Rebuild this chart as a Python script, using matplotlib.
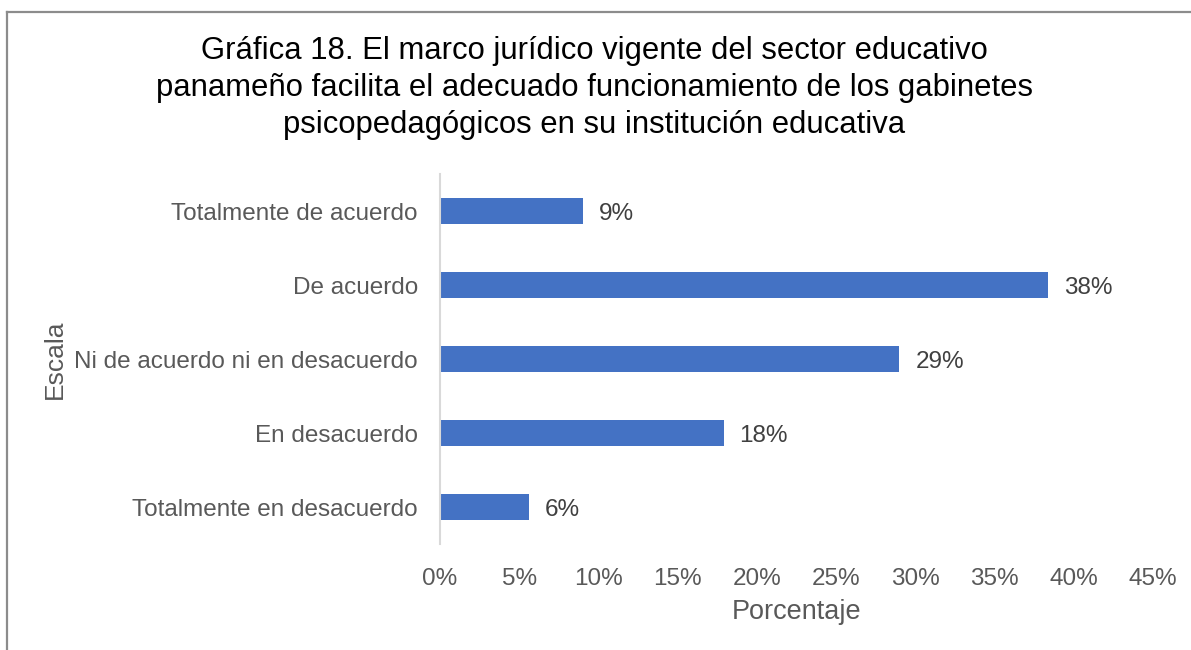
import matplotlib.pyplot as plt
from matplotlib.lines import Line2D
from matplotlib.ticker import FuncFormatter

# Datos
categorias = ["Totalmente de acuerdo", "De acuerdo", "Ni de acuerdo ni en desacuerdo",
              "En desacuerdo", "Totalmente en desacuerdo"]
porcentajes = [9.0, 38.4, 29.0, 17.9, 5.6]
etiquetas = ["9%", "38%", "29%", "18%", "6%"]
ticks_x = [0, 5, 10, 15, 20, 25, 30, 35, 40, 45]

titulo = ("Gráfica 18. El marco jurídico vigente del sector educativo\n"
          "panameño facilita el adecuado funcionamiento de los gabinetes\n"
          "psicopedagógicos en su institución educativa")

plt.rcParams['font.family'] = ['Liberation Sans', 'DejaVu Sans']

fig = plt.figure(figsize=(11.91, 6.5), dpi=100)
W, H = 1191, 650
ax = fig.add_axes([440 / W, 1 - 544 / H, (1153 - 440) / W, (544 - 174) / H])

# Borde exterior (solo arriba e izquierda visibles)
borde = dict(transform=fig.transFigure, color='#8c8c8c', linewidth=1.6)
fig.add_artist(Line2D([6.5 / W, 1], [1 - 12 / H, 1 - 12 / H], **borde))
fig.add_artist(Line2D([6.5 / W, 6.5 / W], [0, 1 - 12 / H], **borde))

y = list(range(len(categorias)))[::-1]
ax.barh(y, porcentajes, height=0.35, color='#4472c4')

for yi, v, t in zip(y, porcentajes, etiquetas):
    ax.text(v + 1.0, yi, t, va='center_baseline', ha='left', fontsize=17.5, color='#404040')

ax.set_xlim(0, 45)
ax.set_ylim(-0.5, len(categorias) - 0.5)
ax.set_xticks(ticks_x)
ax.xaxis.set_major_formatter(FuncFormatter(lambda v, p: f"{v:.0f}%"))
ax.set_yticks(y)
ax.set_yticklabels(categorias)

ax.tick_params(axis='x', length=0, labelsize=17.5, labelcolor='#595959', pad=17)
ax.tick_params(axis='y', length=0, labelsize=17.5, labelcolor='#595959', pad=16)

for s in ['top', 'right', 'bottom']:
    ax.spines[s].set_visible(False)
ax.spines['left'].set_color('#d9d9d9')
ax.spines['left'].set_linewidth(1.5)

ax.set_xlabel("Porcentaje", fontsize=19.5, color='#595959', labelpad=7)
fig.text(55 / W, 1 - 359 / H, "Escala", rotation=90, ha='center', va='center',
         fontsize=19, color='#595959')

fig.text(594 / W, 1 - 88 / H, titulo, ha='center', va='center',
         fontsize=22.3, color='#000000', linespacing=1.3)

plt.savefig("out.png", dpi=100)
